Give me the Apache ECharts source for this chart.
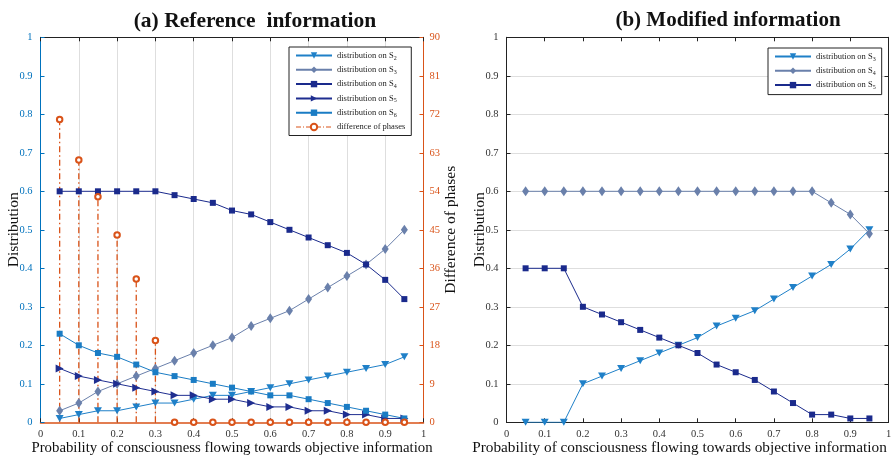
<!DOCTYPE html>
<html>
<head>
<meta charset="utf-8">
<script src="https://cdn.jsdelivr.net/npm/echarts@6/dist/echarts.min.js"></script>
<style>
  html, body { margin: 0; padding: 0; background: #fff; }
  #main { width: 894px; height: 459px; }
</style>
</head>
<body>
<div id="main"></div>
<script>
// x positions shared by both panels
const probX = [0.05, 0.1, 0.15, 0.2, 0.25, 0.3, 0.35, 0.4, 0.45, 0.5, 0.55, 0.6, 0.65, 0.7, 0.75, 0.8, 0.85, 0.9, 0.95]

// (a) reference information
const refS2 = [0.01, 0.02, 0.03, 0.03, 0.04, 0.05, 0.05, 0.06, 0.07, 0.07, 0.08, 0.09, 0.10, 0.11, 0.12, 0.13, 0.14, 0.15, 0.17]
const refS3 = [0.03, 0.05, 0.08, 0.10, 0.12, 0.14, 0.16, 0.18, 0.20, 0.22, 0.25, 0.27, 0.29, 0.32, 0.35, 0.38, 0.41, 0.45, 0.50]
const refS4 = [0.60, 0.60, 0.60, 0.60, 0.60, 0.60, 0.59, 0.58, 0.57, 0.55, 0.54, 0.52, 0.50, 0.48, 0.46, 0.44, 0.41, 0.37, 0.32]
const refS5 = [0.14, 0.12, 0.11, 0.10, 0.09, 0.08, 0.07, 0.07, 0.06, 0.06, 0.05, 0.04, 0.04, 0.03, 0.03, 0.02, 0.02, 0.01, 0.01]
const refS6 = [0.23, 0.20, 0.18, 0.17, 0.15, 0.13, 0.12, 0.11, 0.10, 0.09, 0.08, 0.07, 0.07, 0.06, 0.05, 0.04, 0.03, 0.02, 0.01]
const phaseDiff = [70.8, 61.3, 52.7, 43.8, 33.5, 19.1, 0, 0, 0, 0, 0, 0, 0, 0, 0, 0, 0, 0, 0]

// (b) modified information
const modS3 = [0, 0, 0, 0.10, 0.12, 0.14, 0.16, 0.18, 0.20, 0.22, 0.25, 0.27, 0.29, 0.32, 0.35, 0.38, 0.41, 0.45, 0.50]
const modS4 = [0.60, 0.60, 0.60, 0.60, 0.60, 0.60, 0.60, 0.60, 0.60, 0.60, 0.60, 0.60, 0.60, 0.60, 0.60, 0.60, 0.57, 0.54, 0.49]
const modS5 = [0.40, 0.40, 0.40, 0.30, 0.28, 0.26, 0.24, 0.22, 0.20, 0.18, 0.15, 0.13, 0.11, 0.08, 0.05, 0.02, 0.02, 0.01, 0.01]

const serif = '"Liberation Serif", "DejaVu Serif", serif'
const blue = '#0072BD'
const orange = '#D95319'
const cS2 = '#1f80c8'
const cS3 = '#6a80ab'
const cS4 = '#1a2a8c'
const cS5 = '#1f2e90'
const cS6 = '#1a7cc4'
const xTitle = 'Probability of consciousness flowing towards objective information'

const pairs = (ys) => ys.map((y, i) => [probX[i], y])

const chart = echarts.init(document.getElementById('main'))

function lineSeries(name, ys, color, symbol, size, rotate, xi, yi) {
  return {
    name: name,
    type: 'line',
    xAxisIndex: xi,
    yAxisIndex: yi,
    data: pairs(ys),
    symbol: symbol,
    symbolSize: size,
    symbolRotate: rotate,
    showAllSymbol: true,
    color: color,
    lineStyle: { width: 1, color: color },
    itemStyle: { color: color, borderWidth: 0 },
    z: 3
  }
}

// legend text: last char as subscript
function legendFmt(name) {
  if (name.indexOf('distribution on S') === -1) return '{n|' + name + '}'
  const clean = name.replace(/^\(b\) /, '')
  return '{n|' + clean.slice(0, -1) + '}{s|' + clean.slice(-1) + '}'
}
const legendRich = {
  n: { fontFamily: serif, fontSize: 8.5, color: '#222' },
  s: { fontFamily: serif, fontSize: 6, color: '#222', padding: [5, 0, 0, 0] }
}

function axisCommon(extra) {
  return Object.assign({
    type: 'value',
    min: 0,
    max: 1,
    interval: 0.1,
    nameMoveOverlap: false,
    axisLine: { show: true, onZero: false, lineStyle: { color: '#222', width: 1 } },
    axisTick: { show: true, inside: true, length: 4, lineStyle: { color: '#222' } },
    axisLabel: { fontFamily: serif, fontSize: 10.5, color: '#333', margin: 8 },
    splitLine: { show: false }
  }, extra)
}

const distFmt = (v) => String(Math.round(v * 10) / 10)

const legendBase = {
  orient: 'vertical',
  itemWidth: 36,
  itemHeight: 8,
  itemGap: 4.3,
  padding: [4, 6, 4, 6],
  borderColor: '#222',
  borderWidth: 1,
  backgroundColor: '#fff',
  formatter: legendFmt,
  textStyle: { rich: legendRich }
}

const option = {
  backgroundColor: '#fff',
  animation: false,
  title: [
    {
      text: '(a) Reference  information',
      left: 250,
      top: 5,
      textAlign: 'center',
      textStyle: { fontFamily: serif, fontWeight: 'bold', fontSize: 21.5, color: '#111' }
    },
    {
      text: '(b) Modified information',
      left: 723,
      top: 5,
      textAlign: 'center',
      textStyle: { fontFamily: serif, fontWeight: 'bold', fontSize: 21, color: '#111' }
    }
  ],
  legend: [
    Object.assign({}, legendBase, {
      left: 289,
      top: 47,
      data: [
        'distribution on S2',
        'distribution on S3',
        'distribution on S4',
        'distribution on S5',
        'distribution on S6',
        {
          name: 'difference of phases',
          lineStyle: { opacity: 1, width: 1, type: [5, 2, 1, 2], color: orange }
        }
      ]
    }),
    Object.assign({}, legendBase, {
      left: 768,
      top: 48,
      data: ['(b) distribution on S3', '(b) distribution on S4', '(b) distribution on S5']
    })
  ],
  grid: [
    { left: 40.5, top: 37.3, width: 383, height: 385, outerBoundsMode: 'none', containLabel: false },
    { left: 506.5, top: 37.3, width: 382, height: 385, outerBoundsMode: 'none', containLabel: false }
  ],
  xAxis: [
    axisCommon({
      gridIndex: 0,
      position: 'bottom',
      axisLine: { show: true, onZero: false, lineStyle: { color: orange, width: 1.5 } },
      axisLabel: { fontFamily: serif, fontSize: 10.5, color: '#333', margin: 6, formatter: distFmt },
      splitLine: { show: true, lineStyle: { color: '#dedede', width: 1 } },
      name: xTitle,
      nameLocation: 'middle',
      nameGap: 18,
      nameTextStyle: { fontFamily: serif, fontSize: 14.8, color: '#111' }
    }),
    axisCommon({ gridIndex: 0, position: 'top', axisLabel: { show: false } }),
    axisCommon({
      gridIndex: 1,
      position: 'bottom',
      axisLabel: { fontFamily: serif, fontSize: 10.5, color: '#333', margin: 6, formatter: distFmt },
      name: xTitle,
      nameLocation: 'middle',
      nameGap: 18,
      nameTextStyle: { fontFamily: serif, fontSize: 15.3, color: '#111', padding: [0, 36, 0, 0] }
    }),
    axisCommon({ gridIndex: 1, position: 'top', axisLabel: { show: false } })
  ],
  yAxis: [
    axisCommon({
      gridIndex: 0,
      position: 'left',
      axisLine: { show: true, onZero: false, lineStyle: { color: blue, width: 1 } },
      axisTick: { show: true, inside: true, length: 4, lineStyle: { color: blue } },
      axisLabel: { fontFamily: serif, fontSize: 10.5, color: blue, margin: 8, formatter: distFmt },
      name: 'Distribution',
      nameLocation: 'middle',
      nameGap: 19,
      nameTextStyle: { fontFamily: serif, fontSize: 15.5, color: '#111' }
    }),
    axisCommon({
      gridIndex: 0,
      position: 'right',
      max: 90,
      interval: 9,
      axisLine: { show: true, onZero: false, lineStyle: { color: orange, width: 1 } },
      axisTick: { show: true, inside: true, length: 4, lineStyle: { color: orange } },
      axisLabel: { fontFamily: serif, fontSize: 10.5, color: orange, margin: 6 },
      name: 'Difference of phases',
      nameLocation: 'middle',
      nameGap: 19,
      nameRotate: 90,
      nameTextStyle: { fontFamily: serif, fontSize: 15.5, color: '#111' }
    }),
    axisCommon({
      gridIndex: 1,
      position: 'left',
      axisLabel: { fontFamily: serif, fontSize: 10.5, color: '#333', margin: 8, formatter: distFmt },
      splitLine: { show: true, lineStyle: { color: '#dedede', width: 1 } },
      name: 'Distribution',
      nameLocation: 'middle',
      nameGap: 19,
      nameTextStyle: { fontFamily: serif, fontSize: 15.5, color: '#111' }
    }),
    axisCommon({ gridIndex: 1, position: 'right', axisLabel: { show: false } })
  ],
  series: [
    // stems for the phase difference (drawn from 0 up to the value)
    {
      type: 'custom',
      xAxisIndex: 0,
      yAxisIndex: 1,
      data: pairs(phaseDiff),
      z: 2,
      silent: true,
      renderItem: function (params, api) {
        if (api.value(1) <= 0) return null
        const base = api.coord([api.value(0), 0])
        const top = api.coord([api.value(0), api.value(1)])
        return {
          type: 'line',
          shape: { x1: base[0], y1: base[1], x2: top[0], y2: top[1] + 3 },
          style: { stroke: orange, lineWidth: 1.3, lineDash: [6, 3, 1.5, 3] }
        }
      }
    },
    lineSeries('distribution on S2', refS2, cS2, 'triangle', [8, 7], 180, 0, 0),
    lineSeries('distribution on S3', refS3, cS3, 'diamond', [7, 10], 0, 0, 0),
    lineSeries('distribution on S4', refS4, cS4, 'rect', 6, 0, 0, 0),
    lineSeries('distribution on S5', refS5, cS5, 'triangle', [8, 8], -90, 0, 0),
    lineSeries('distribution on S6', refS6, cS6, 'rect', 6, 0, 0, 0),
    {
      name: 'difference of phases',
      type: 'line',
      xAxisIndex: 0,
      yAxisIndex: 1,
      data: pairs(phaseDiff),
      symbol: 'emptyCircle',
      symbolSize: 5.5,
      showAllSymbol: true,
      color: orange,
      lineStyle: { width: 1, opacity: 0, color: orange, type: [5, 2, 1, 2] },
      itemStyle: { color: orange, borderColor: orange, borderWidth: 1 },
      z: 4
    },
    lineSeries('(b) distribution on S3', modS3, cS2, 'triangle', [8, 7], 180, 2, 2),
    lineSeries('(b) distribution on S4', modS4, cS3, 'diamond', [7, 10], 0, 2, 2),
    lineSeries('(b) distribution on S5', modS5, cS4, 'rect', 6, 0, 2, 2)
  ]
}

chart.setOption(option)
</script>
</body>
</html>
